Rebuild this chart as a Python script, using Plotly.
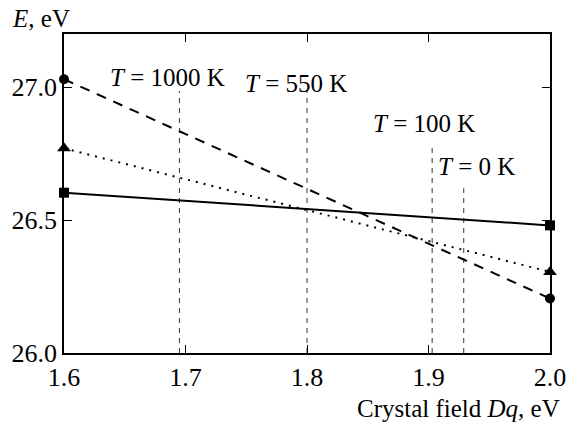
import plotly.graph_objects as go

# Data
dq_ends = [1.6, 2.0]
e_circle = [27.03, 26.205]     # dashed, circles
e_triangle = [26.77, 26.305]   # dotted, triangles
e_square = [26.603, 26.48]     # solid, squares

t_labels = ["<i>T</i> = 1000 K", "<i>T</i> = 550 K", "<i>T</i> = 100 K", "<i>T</i> = 0 K"]
t_dq = [1.695, 1.8, 1.903, 1.929]
t_top = [26.985, 26.985, 26.79, 26.62]
label_x = [1.685, 1.791, 1.8965, 1.9395]
label_y = [27.038, 27.012, 26.863, 26.70]

x_ticks = [1.6, 1.7, 1.8, 1.9, 2.0]
y_ticks = [26.0, 26.5, 27.0]

FONT = "Liberation Serif"
fig = go.Figure()

for xv, yt in zip(t_dq, t_top):
    fig.add_trace(go.Scatter(x=[xv, xv], y=[26.0, yt], mode="lines",
                             line=dict(color="#333333", width=1, dash="5px,5px"),
                             hoverinfo="skip", showlegend=False))

fig.add_trace(go.Scatter(x=dq_ends, y=e_circle, mode="lines+markers",
                         line=dict(color="black", width=2, dash="10px,8px"),
                         marker=dict(symbol="circle", size=10, color="black"),
                         cliponaxis=False, showlegend=False))
fig.add_trace(go.Scatter(x=dq_ends, y=e_triangle, mode="lines+markers",
                         line=dict(color="black", width=2, dash="2px,6px"),
                         marker=dict(symbol="triangle-up", size=12, color="black"),
                         cliponaxis=False, showlegend=False))
fig.add_trace(go.Scatter(x=dq_ends, y=e_square, mode="lines+markers",
                         line=dict(color="black", width=2),
                         marker=dict(symbol="square", size=10, color="black"),
                         cliponaxis=False, showlegend=False))

for txt, lx, ly in zip(t_labels, label_x, label_y):
    fig.add_annotation(x=lx, y=ly, text=txt, showarrow=False,
                       font=dict(family=FONT, size=25, color="black"),
                       xanchor="center", yanchor="middle")

fig.add_annotation(xref="paper", yref="paper", x=-0.112, y=1.0, yshift=16,
                   text="<i>E</i>, eV", showarrow=False, xanchor="left",
                   yanchor="middle", font=dict(family=FONT, size=25, color="black"))
fig.add_annotation(xref="paper", yref="paper", x=1.0, y=0, yshift=-55,
                   text="Crystal field <i>Dq</i>, eV", showarrow=False, xanchor="right",
                   yanchor="middle", xshift=12,
                   font=dict(family=FONT, size=25, color="black"))

axis_common = dict(showgrid=False, zeroline=False, showline=True, linecolor="black",
                   linewidth=1.5, mirror="allticks", ticks="inside", ticklen=8,
                   tickcolor="black", tickwidth=1, automargin=False,
                   tickfont=dict(family=FONT, size=26, color="black"))

fig.update_layout(
    width=569, height=428,
    margin=dict(l=64, r=19, t=34, b=75),
    plot_bgcolor="white", paper_bgcolor="white",
    xaxis=dict(range=[1.6, 2.0], tickvals=x_ticks,
               ticktext=[f"{v:.1f}" for v in x_ticks], **axis_common),
    yaxis=dict(range=[26.0, 27.2], tickvals=y_ticks,
               ticktext=[f"{v:.1f}" for v in y_ticks], **axis_common),
)

fig.write_html("out.html",
               config={"displayModeBar": False},
               post_script="document.body.style.margin='0px';"
                           "document.body.style.overflow='hidden';")
